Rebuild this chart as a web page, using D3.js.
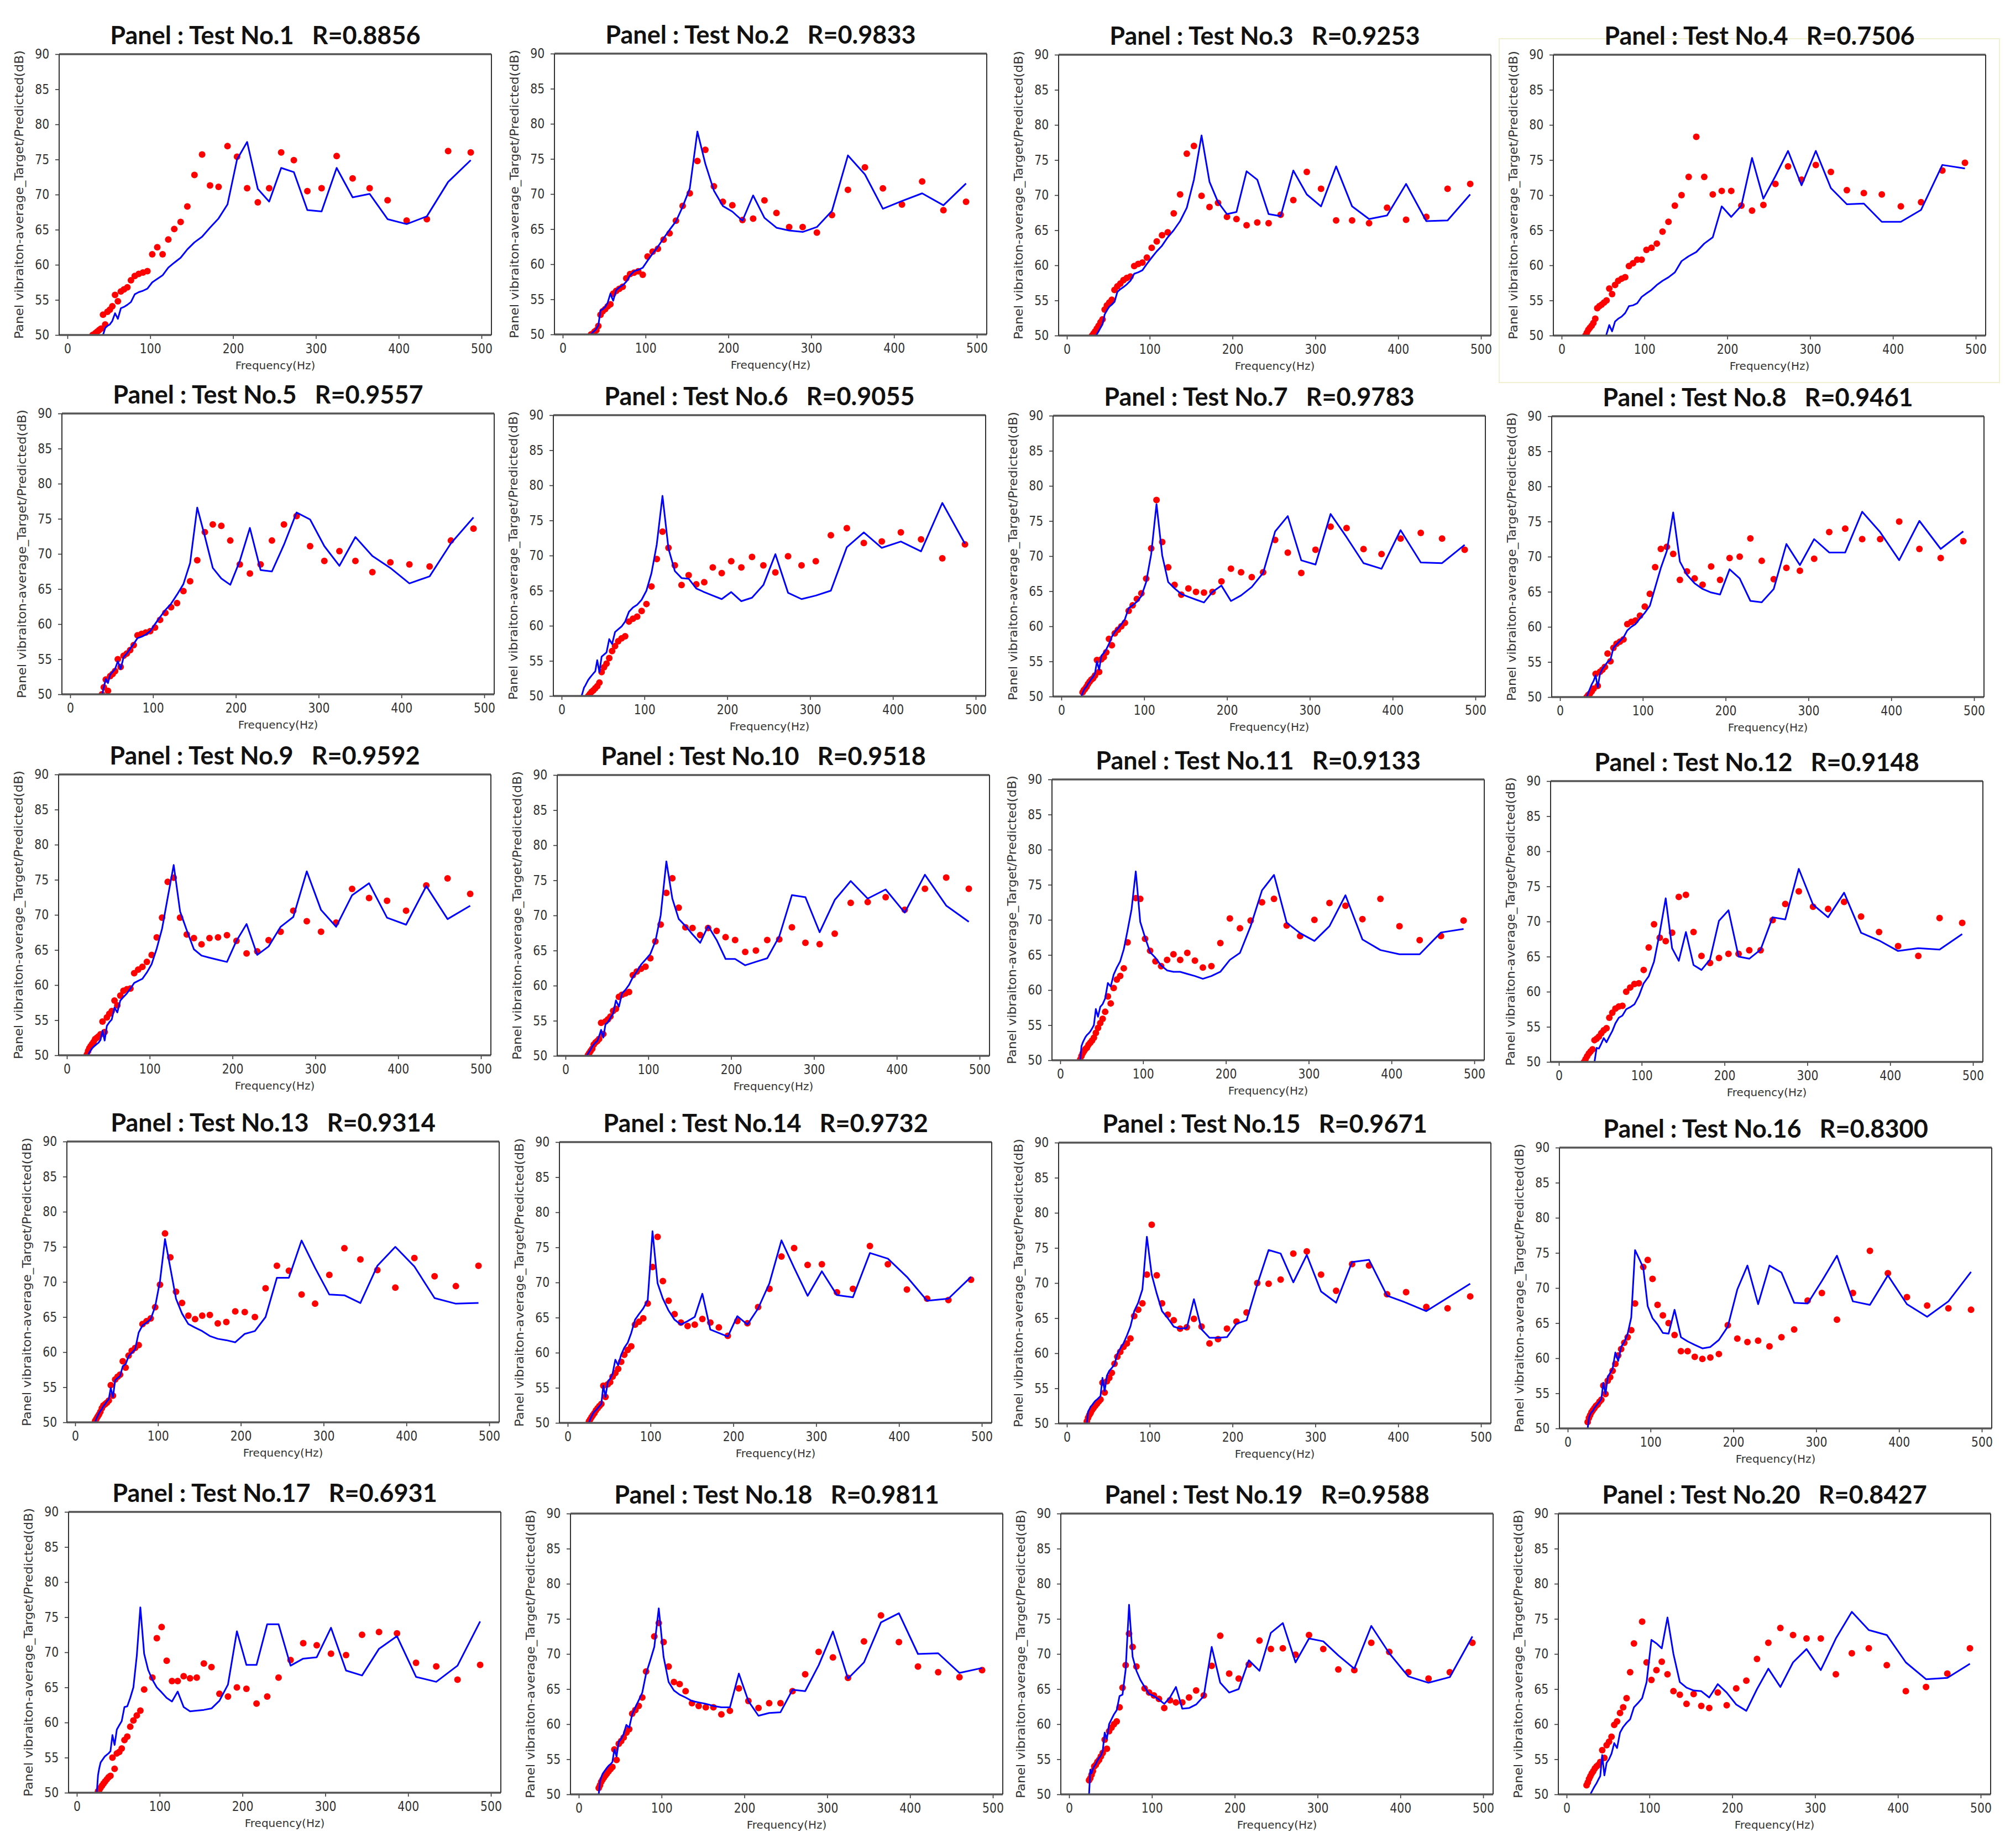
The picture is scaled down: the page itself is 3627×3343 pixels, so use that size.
<!DOCTYPE html>
<html><head><meta charset="utf-8">
<script src="https://cdn.jsdelivr.net/npm/d3@7"></script>
<style>body{margin:0;background:#fff}svg{display:block}</style>
</head><body>
<svg id="chart" width="3627" height="3343"></svg>
<script>
// 1/12-octave band centre frequencies (Hz)
const freqs = [24.1,25.6,27.1,28.7,30.4, 32.2,34.1,36.2,38.3,40.6, 43.0,45.6,48.3,51.2,54.2,
  57.5,60.9,64.5,68.3,72.4, 76.7,81.3,86.1,91.2,96.6, 102.4,108.5,114.9,121.8,129.0,
  136.7,144.8,153.4,162.6,172.2, 182.5,193.3,204.8,217.0,229.9, 243.6,258.1,273.4,289.7,306.9,
  325.1,344.4,364.9,386.6,409.6, 434.0,459.7,487.0];
const rValues = [0.8856,0.9833,0.9253,0.7506,0.9557,0.9055,0.9783,0.9461,0.9592,0.9518,
  0.9133,0.9148,0.9314,0.9732,0.9671,0.8300,0.6931,0.9811,0.9588,0.8427];
const xTicks = [0,100,200,300,400,500];
const yTicks = [50,55,60,65,70,75,80,85,90];

// Target (red dots) and Predicted (blue line) per test
const target01 = [null,null,null,null,50.0, 50.1,50.3,50.5,50.7,50.9, 52.9,51.5,53.3,53.6,54.1, 55.7,54.8,56.2,56.5,56.8, 57.8,58.4,58.7,58.9,59.1, 61.5,62.5,61.5,63.6,65.1, 66.1,68.3,72.8,75.7,71.3, 71.1,76.9,75.4,70.9,68.9, 70.9,76.0,74.9,70.5,70.9, 75.5,72.3,70.9,69.2,66.3, 66.5,76.2,76.0];
const predicted01 = [null,null,null,null,null, null,null,null,null,49.5, 50.0,51.0,51.3,51.5,52.0, 53.1,52.3,53.8,54.0,54.3, 54.7,55.8,56.1,56.3,56.6, 57.5,58.0,58.5,59.6,60.3, 61.0,62.2,63.2,64.0,65.3, 66.6,68.6,75.0,77.5,70.8, 69.0,73.8,73.2,67.8,67.6, 73.8,69.6,70.1,66.5,65.8, 66.9,71.8,74.9];
const target02 = [null,null,null,null,null, null,50.0,50.1,50.4,50.6, 51.2,52.8,53.3,53.6,54.0, 54.3,55.8,56.2,56.5,56.8, 58.0,58.6,58.8,59.0,58.5, 61.1,61.8,62.2,63.5,64.4, 66.2,68.3,70.1,74.7,76.3, 71.1,68.9,68.4,66.3,66.5, 69.1,67.3,65.3,65.3,64.5, 67.0,70.6,73.8,70.8,68.5, 71.8,67.7,68.9];
const predicted02 = [null,null,null,null,null, null,50.0,50.3,50.5,50.8, 51.3,53.4,53.6,53.9,54.5, 55.8,54.8,56.3,56.7,57.0, 57.5,58.4,59.0,59.2,59.5, 60.5,61.5,62.5,63.7,64.9, 66.1,68.2,70.8,78.9,74.3, 70.5,68.3,67.5,66.2,69.8, 66.6,65.2,64.8,64.6,65.3, 67.6,75.5,72.8,67.9,69.0, 70.1,68.4,71.5];
const target03 = [null,null,null,null,50.0, 50.3,50.6,51.0,51.4,51.9, 52.3,53.7,54.3,54.7,55.1, 56.5,57.0,57.4,57.9,58.2, 58.4,59.9,60.2,60.4,61.1, 62.5,63.4,64.3,64.7,67.4, 70.1,75.9,77.0,69.9,68.3, 68.9,66.9,66.6,65.7,66.1, 66.0,67.2,69.3,73.3,70.9, 66.4,66.4,66.0,68.2,66.5, 66.9,70.9,71.6];
const predicted03 = [null,null,null,null,null, null,49.8,50.2,50.6,51.1, 51.6,53.0,53.6,54.1,54.4, 54.8,56.2,56.6,56.9,57.3, 57.8,58.8,59.0,59.3,60.2, 61.1,62.0,62.8,64.0,65.0, 66.3,68.2,72.2,78.5,71.9, 69.0,67.3,67.6,73.4,72.2, 67.3,67.0,73.5,70.1,68.4, 74.1,68.4,66.6,67.1,71.6, 66.3,66.4,70.1];
const target04 = [null,null,null,50.0,50.4, 50.8,51.1,51.4,51.8,52.4, 53.9,54.2,54.4,54.7,55.0, 56.7,55.9,57.2,57.8,58.1, 58.3,59.9,60.3,60.8,60.8, 62.2,62.5,63.1,64.8,66.2, 68.5,70.0,72.6,78.3,72.6, 70.1,70.6,70.6,68.5,67.8, 68.6,71.6,74.1,72.2,74.3, 73.3,70.7,70.3,70.1,68.4, 69.0,73.5,74.6];
const predicted04 = [null,null,null,null,null, null,null,null,null,null, null,null,null,48.5,50.2, 51.5,50.6,52.0,52.4,52.7, 53.2,54.2,54.3,54.6,55.5, 56.0,56.5,57.2,57.8,58.3, 59.0,60.6,61.3,61.9,63.1, 64.0,68.4,66.9,68.5,75.3, 69.5,72.7,76.3,71.4,76.3, 71.0,68.7,68.8,66.2,66.2, 67.9,74.3,73.8];
const target05 = [null,null,null,null,null, null,null,null,50.0,51.0, 52.1,50.5,52.6,52.9,53.3, 55.0,53.9,55.5,55.8,56.3, 57.0,58.4,58.6,58.8,59.0, 59.5,60.6,61.6,62.4,63.0, 64.7,66.1,69.1,73.1,74.2, 74.0,71.9,68.5,67.2,68.5, 71.9,74.2,75.4,71.1,69.0, 70.4,69.0,67.4,68.8,68.5, 68.2,71.9,73.6];
const predicted05 = [null,null,null,null,null, null,null,null,49.8,51.0, 52.2,51.6,52.8,53.2,53.6, 54.7,53.6,55.3,55.8,56.5, 57.2,58.0,58.2,58.5,59.0, 60.0,61.0,62.0,62.9,64.2, 65.7,68.7,76.6,72.5,68.0, 66.5,65.6,69.0,73.7,67.7, 67.5,71.3,75.9,74.9,71.1, 68.3,72.4,69.7,68.0,65.8, 66.8,71.5,75.2];
const target06 = [null,null,null,null,null, 50.0,50.3,50.6,50.8,51.1, 51.4,51.9,53.4,54.1,54.6, 55.4,56.4,57.1,57.8,58.2, 58.5,60.6,61.0,61.3,62.1, 63.1,65.6,69.5,73.4,71.1, 68.6,65.8,67.2,65.9,66.2, 68.3,67.5,69.2,68.3,69.8, 68.6,67.6,69.9,68.6,69.2, 72.9,73.9,71.8,72.0,73.3, 72.3,69.6,71.6];
const predicted06 = [50.0,50.6,51.2,51.5,51.9, 52.3,52.6,52.9,53.2,53.5, 55.1,53.4,55.6,55.9,56.2, 58.1,57.4,59.1,59.5,59.9, 60.6,62.0,62.6,63.0,63.7, 65.0,67.5,71.6,78.5,71.0, 67.8,66.8,66.7,65.3,64.8, 64.3,63.8,64.8,63.5,64.0, 65.8,70.2,64.7,63.8,64.3, 65.0,71.2,73.3,71.1,72.0, 70.6,77.5,71.7];
const target07 = [null,50.6,50.9,51.1,51.4, 51.8,52.1,52.4,52.6,53.0, 55.2,53.5,55.3,55.6,56.3, 58.2,57.3,59.0,59.5,60.0, 60.5,62.2,63.0,63.9,64.7, 66.8,71.1,78.0,72.0,68.4, 65.9,64.5,65.4,64.9,64.8, 64.9,66.4,68.2,67.7,67.0, 67.7,72.3,70.5,67.6,70.9, 74.2,74.0,71.0,70.3,72.5, 73.3,72.5,70.9];
const predicted07 = [50.0,50.5,50.9,51.2,51.4, 51.8,52.1,52.5,52.8,53.3, 55.0,53.8,55.8,56.2,56.7, 57.5,58.5,59.2,59.7,60.3, 61.0,62.6,63.0,63.5,64.3, 66.3,70.3,77.4,70.1,66.3, 65.4,64.6,64.2,63.8,63.4, 64.9,65.8,63.6,64.4,65.6, 67.6,73.5,75.7,69.4,68.8, 76.0,72.7,69.0,68.2,73.7, 69.1,69.0,71.6];
const target08 = [null,null,null,null,null, 50.0,50.3,50.5,50.8,51.2, 53.3,51.6,53.6,53.9,54.3, 56.2,55.1,57.0,57.6,57.9, 58.2,60.4,60.7,60.9,61.6, 62.9,64.7,68.5,71.1,71.4, 70.4,66.7,67.9,66.9,66.0, 68.6,66.7,69.8,70.0,72.6, 69.4,66.8,68.4,68.0,69.7, 73.5,74.0,72.5,72.5,75.0, 71.1,69.8,72.2];
const predicted08 = [null,null,null,null,null, 50.0,50.6,51.2,51.8,52.3, 53.1,51.4,53.3,54.0,54.5, 55.0,55.3,57.0,57.5,58.0, 58.5,59.5,60.0,60.4,61.2, 62.0,63.0,65.6,68.4,70.8, 76.3,69.3,67.4,66.2,65.4, 64.9,64.6,68.2,66.9,63.7, 63.5,65.4,71.8,68.8,72.5, 70.6,70.6,76.4,73.5,69.5, 75.1,71.1,73.6];
const target09 = [50.1,50.6,51.0,51.3,51.6, 51.9,52.3,52.5,52.7,53.0, 54.8,53.3,55.4,55.9,56.3, 57.8,57.1,58.5,59.2,59.4, 59.5,61.7,62.2,62.6,63.3, 64.3,66.8,69.6,74.7,75.3, 69.6,67.2,66.7,65.8,66.7, 66.8,67.1,66.3,64.5,64.8, 66.4,67.6,70.6,69.1,67.6, 68.9,73.7,72.4,72.0,70.6, 74.2,75.2,73.0];
const predicted09 = [null,50.0,50.4,50.7,51.0, 51.2,51.4,51.6,51.8,52.2, 53.5,52.1,54.2,54.7,55.1, 56.8,56.1,57.8,58.3,58.8, 59.5,60.3,60.6,60.9,61.8, 63.0,65.2,68.0,72.5,77.1, 70.5,67.8,65.1,64.2,63.9, 63.6,63.3,66.3,68.7,64.3, 65.5,68.3,69.7,76.2,70.7, 68.3,72.8,74.5,69.6,68.6, 74.1,69.4,71.3];
const target10 = [null,null,50.1,50.4,50.7, 51.0,51.6,51.9,52.1,52.4, 54.7,53.1,54.9,55.2,55.6, 56.4,56.7,58.4,58.7,58.9, 59.1,61.5,62.0,62.4,62.7, 63.9,66.3,68.7,73.2,75.3, 71.1,68.3,68.2,67.2,68.2, 67.8,66.9,66.5,64.8,65.0, 66.5,66.6,68.3,66.1,65.9, 67.4,71.8,71.9,72.6,70.8, 73.8,75.4,73.8];
const predicted10 = [null,50.0,50.3,50.6,50.9, 51.3,51.6,51.9,52.1,52.8, 53.7,52.6,54.5,54.8,55.4, 56.0,57.9,57.0,58.9,59.4, 60.1,61.2,62.0,63.0,63.7, 64.5,66.3,70.0,77.7,72.4, 69.5,68.5,67.3,66.1,68.5, 66.5,63.8,63.8,62.9,63.4, 63.9,67.0,72.9,72.6,67.6, 72.2,74.9,72.4,73.7,70.4, 75.8,71.4,69.1];
const target11 = [50.1,50.6,51.0,51.3,51.6, 51.8,52.2,52.5,52.8,53.2, 53.9,54.6,55.3,55.9,56.9, 59.1,58.1,60.3,61.5,62.0, 63.1,66.8,null,73.1,73.0, 67.3,65.6,64.1,63.4,64.3, 65.1,64.3,65.3,64.2,63.2, 63.4,66.7,70.2,68.8,69.9, 72.5,73.0,69.2,67.7,70.0, 72.4,72.0,70.1,73.0,69.1, 67.1,67.7,69.9];
const predicted11 = [50.0,52.0,52.5,52.9,53.3, 53.6,53.8,54.1,54.5,55.0, 57.3,56.2,57.6,58.0,58.8, 61.0,60.5,62.2,63.2,64.1, 65.8,68.5,71.5,76.9,69.7, 67.5,65.4,64.6,63.5,62.8, 62.6,62.6,62.3,62.0,61.6, 62.0,62.6,64.3,65.3,69.1, 74.2,76.4,69.6,68.1,67.0, 69.1,73.5,67.2,65.7,65.1, 65.1,68.2,68.7];
const target12 = [null,null,null,null,50.0, 50.4,50.8,51.2,51.5,51.8, 53.1,53.3,53.6,54.1,54.5, 54.8,56.3,57.0,57.6,57.9, 58.0,60.0,60.6,61.1,61.2, 63.1,66.3,69.6,67.7,67.2, 68.4,73.5,73.8,68.5,65.1, 64.1,64.8,65.4,65.4,65.9, 65.9,70.2,72.5,74.3,72.1, 71.8,72.8,70.7,68.5,66.5, 65.1,70.5,69.8];
const predicted12 = [null,null,null,null,null, null,null,null,null,null, 50.0,52.0,51.9,52.6,53.4, 52.8,53.6,54.4,55.5,56.3, 56.6,57.5,57.8,58.2,59.4, 61.2,62.2,64.3,68.4,73.3, 66.2,64.4,68.5,63.8,63.1, 64.6,70.1,71.6,65.0,64.7, 66.0,70.6,70.3,77.5,72.4, 70.6,74.1,68.4,67.3,65.8, 66.2,66.0,68.2];
const target13 = [50.2,50.5,50.8,51.1,51.5, 52.0,52.4,52.6,52.8,53.1, 55.3,53.8,56.1,56.5,56.8, 58.7,57.8,59.5,60.2,60.6, 61.0,64.0,64.4,64.8,66.4, 69.6,76.9,73.5,68.6,67.0, 65.2,64.7,65.2,65.3,64.1, 64.3,65.8,65.7,65.0,69.1, 72.3,71.6,68.2,66.9,71.0, 74.8,73.2,71.7,69.2,73.4, 70.8,69.4,72.3];
const predicted13 = [50.0,50.5,50.9,51.3,51.6, 51.9,52.3,52.6,53.0,53.3, 54.9,53.6,56.0,56.3,56.6, 58.0,58.3,59.4,59.9,60.4, 62.8,63.8,64.2,64.7,66.5, 70.1,76.1,72.0,67.6,65.5, 64.0,63.5,63.0,62.3,61.9, 61.7,61.4,62.6,63.0,65.0, 70.6,70.6,75.9,72.0,68.2, 68.1,67.0,72.3,75.0,72.2, 67.7,66.9,67.0];
const target14 = [null,50.2,50.5,50.8,51.1, 51.4,51.8,52.1,52.4,52.7, 55.3,53.7,55.5,55.8,56.6, 57.1,57.7,58.7,59.7,60.4, 60.9,64.0,64.4,64.9,67.0, 72.2,76.5,70.2,67.4,65.5, 64.3,63.8,64.0,64.8,64.3, 63.6,62.4,64.5,64.2,66.5, 69.1,73.7,74.9,72.5,72.6, 68.6,69.1,75.2,72.6,69.0, 67.7,67.5,70.4];
const predicted14 = [null,50.0,50.5,50.9,51.3, 51.6,51.8,52.1,52.4,52.7, 55.3,53.7,55.8,56.3,57.0, 59.0,58.2,59.7,60.7,61.4, 62.8,64.7,65.5,66.3,67.5, 77.3,69.9,67.7,66.0,64.7, 64.0,64.5,65.1,68.4,63.3, 62.8,62.3,65.2,64.0,66.3, 69.9,76.0,72.1,68.1,71.6, 68.2,67.9,74.2,73.4,70.8, 67.4,67.7,70.8];
const target15 = [50.3,50.8,51.2,51.5,51.9, 52.2,52.5,52.8,53.1,53.4, 55.8,54.4,56.0,56.5,57.2, 58.5,59.5,60.2,60.9,61.4, 62.1,65.3,66.2,67.1,71.2, 78.3,71.1,67.1,65.5,64.7, 63.5,63.7,64.9,63.8,61.4, 62.0,63.5,64.5,65.8,70.0, 69.9,70.5,74.2,74.5,71.2, 68.9,72.7,72.5,68.4,68.7, 66.6,66.4,68.1];
const predicted15 = [50.0,51.7,52.0,52.4,52.6, 52.9,53.2,53.4,53.6,53.9, 56.5,54.6,56.8,57.5,57.9, 58.4,59.9,60.7,61.4,62.5, 63.8,66.0,67.2,69.1,76.6, 71.2,68.5,66.0,65.0,63.8, 63.5,63.6,67.7,63.4,62.2, 62.2,62.3,64.2,64.7,69.8, 74.7,74.2,70.1,74.0,68.8, 67.2,73.0,73.3,68.2,67.2, 66.0,67.9,69.9];
const target16 = [50.9,51.5,51.9,52.3,52.6, 52.9,53.2,53.4,53.8,54.1, 56.1,54.9,56.8,57.3,58.2, 59.2,60.4,61.3,62.2,63.0, 64.0,67.8,null,73.0,74.0, 71.3,67.6,66.1,65.0,63.3, 61.0,61.0,60.2,59.9,60.1, 60.6,64.7,62.8,62.3,62.5, 61.7,63.0,64.1,68.2,69.3, 65.5,69.3,75.3,72.1,68.7, 67.5,67.1,66.9];
const predicted16 = [50.0,51.5,52.0,52.3,52.5, 52.9,53.2,53.5,53.8,54.2, 56.5,54.9,57.3,57.9,58.5, 60.8,59.6,61.6,62.3,63.5, 65.8,75.4,74.2,72.9,67.4, 65.7,64.8,63.6,63.5,66.9, 63.0,62.4,61.9,61.4,61.6, 62.6,64.5,69.8,73.2,67.7, 73.2,72.2,67.9,67.8,71.0, 74.6,68.1,67.6,71.8,67.7, 65.9,68.1,72.3];
const target17 = [null,50.2,50.4,50.7,51.0, 51.3,51.6,51.9,52.2,52.4, 55.0,53.4,55.6,55.8,56.3, 57.5,58.0,59.4,60.3,61.0, 61.7,64.7,null,66.4,72.0, 73.6,68.8,65.9,65.9,66.6, 66.3,66.4,68.4,67.9,64.1, 63.7,65.0,64.8,62.7,63.7, 66.4,68.9,71.3,71.0,69.8, 69.6,72.5,72.9,72.7,68.5, 68.0,66.1,68.2];
const predicted17 = [50.0,52.5,53.5,54.3,54.6, 54.9,55.2,55.4,55.6,55.9, 58.2,56.8,59.0,59.6,60.2, 62.2,62.3,63.5,65.0,69.5, 76.4,69.8,67.5,66.1,65.0, 64.3,63.5,63.0,64.4,62.2, 61.6,61.7,61.8,62.0,63.1, 65.4,73.0,68.2,68.2,74.0, 74.0,68.1,69.1,69.3,73.5, 67.4,66.7,70.5,72.3,66.5, 65.8,68.1,74.4];
const target18 = [50.9,51.3,51.8,52.1,52.4, 52.7,53.0,53.3,53.6,53.9, 56.4,54.9,57.2,57.6,58.1, 58.8,59.3,61.5,62.0,62.6, 63.8,67.5,null,72.5,74.4, 71.7,68.2,66.0,65.7,64.7, 63.0,62.6,62.4,62.4,61.4, 61.9,65.1,63.3,62.3,63.0, 63.0,64.7,67.1,70.3,69.5, 66.6,71.8,75.5,71.7,68.2, 67.4,66.7,67.7];
const predicted18 = [50.0,51.8,52.4,52.9,53.2, 53.5,53.8,54.1,54.3,54.6, 56.4,55.4,57.5,57.9,58.6, 59.9,59.5,61.4,62.4,63.4, 64.5,67.2,69.0,71.0,76.5, 69.6,66.0,64.8,64.2,63.8, 63.3,63.1,62.9,62.6,62.4, 62.4,67.2,63.3,61.2,61.6, 61.7,64.9,64.7,68.4,73.2, 66.5,68.8,74.5,75.8,70.0, 70.1,67.3,68.0];
const target19 = [52.0,52.3,52.8,53.3,54.0, 54.2,54.6,54.9,55.4,55.9, 57.8,56.5,59.0,59.5,60.0, 60.4,62.4,65.2,68.4,72.9, 71.0,68.2,null,65.1,64.5, 64.1,63.6,62.3,63.4,63.1, 63.1,63.8,64.8,64.1,68.3, 72.6,67.2,66.5,68.5,71.9, 70.7,70.8,69.9,72.7,70.7, 67.8,67.7,71.6,70.3,67.4, 66.5,67.4,71.6];
const predicted19 = [50.0,53.5,53.0,53.6,54.0, 54.3,54.8,55.2,55.5,56.2, 58.8,57.9,60.0,60.7,61.4, 62.0,64.0,64.2,67.8,77.0, 69.6,67.6,66.3,65.3,64.3, 64.0,63.5,62.9,63.8,65.3, 62.2,62.3,62.8,64.0,71.0, 65.9,64.5,65.0,69.1,67.6, 73.0,74.4,68.8,72.2,71.8, 69.8,67.9,74.0,70.1,66.8, 65.9,66.7,72.5];
const target20 = [51.3,51.7,52.2,52.6,53.0, 53.3,53.7,54.0,54.2,54.6, 56.3,55.2,57.0,57.5,58.2, 59.9,60.4,61.6,62.4,63.7, 67.4,71.5,null,74.6,68.8, 66.3,67.7,68.9,67.1,64.7, 64.2,62.9,64.3,62.6,62.3, 64.5,62.7,65.1,66.2,69.3, 71.6,73.7,72.7,72.2,72.2, 67.1,70.1,70.8,68.4,64.7, 65.3,67.2,70.8];
const predicted20 = [null,null,null,50.0,50.4, 50.8,51.2,51.6,52.1,52.6, 55.6,52.7,54.5,55.0,55.8, 57.3,56.6,58.8,59.6,60.2, 60.7,62.4,63.0,63.7,66.0, 72.0,71.5,70.8,75.2,70.0, 66.0,65.2,64.8,64.7,63.8, 65.7,64.5,62.8,61.9,65.0, 67.9,65.3,68.8,70.7,67.7, 72.2,76.0,73.4,72.7,68.8, 66.4,66.6,68.6];

const targets = [target01,target02,target03,target04,target05,target06,target07,target08,target09,target10,
  target11,target12,target13,target14,target15,target16,target17,target18,target19,target20];
const predicteds = [predicted01,predicted02,predicted03,predicted04,predicted05,predicted06,predicted07,predicted08,predicted09,predicted10,
  predicted11,predicted12,predicted13,predicted14,predicted15,predicted16,predicted17,predicted18,predicted19,predicted20];

// layout: axes-box top-left corner of each panel (px)
const layout = [[107,98],[1003,97],[1915,99],[2810,99],
  [112,748],[1001,751],[1905,752],[2807,753],
  [106,1401],[1008,1402],[1903,1410],[2805,1413],
  [121,2065],[1012,2066],[1915,2067],[2821,2076],
  [124,2735],[1032,2738],[1919,2738],[2819,2738]];
const W = 782, H = 508;

const svg = d3.select('#chart');
svg.append('rect').attr('width',3627).attr('height',3343).attr('fill','#fff');
// faint frame around panel 4 (pasted image border)
svg.append('rect').attr('x',2712).attr('y',70).attr('width',905).attr('height',622)
  .attr('fill','none').attr('stroke','#f1f1d2').attr('stroke-width',2);

const x = d3.scaleLinear().domain([-10,512]).range([0,W]);
const y = d3.scaleLinear().domain([50,90]).range([H,0]);
const line = d3.line().defined(d => d.v != null).x(d => x(d.f)).y(d => y(d.v));

targets.forEach((tArr, i) => {
  const [left, top] = layout[i];
  const g = svg.append('g').attr('transform', `translate(${left},${top})`);
  const clipId = 'clip' + i;
  g.append('clipPath').attr('id', clipId).append('rect').attr('width', W).attr('height', H);

  // axes
  const ya = g.append('g').call(d3.axisLeft(y).tickValues(yTicks).tickSize(7).tickPadding(11));
  const xa = g.append('g').attr('transform', `translate(0,${H})`)
    .call(d3.axisBottom(x).tickValues(xTicks).tickSize(7).tickPadding(9));
  [ya, xa].forEach(a => {
    a.select('.domain').remove();
    a.selectAll('line').attr('stroke', '#333').attr('stroke-width', 1.6);
    a.selectAll('text').attr('font-family', 'DejaVu Sans').attr('font-size', 24)
      .attr('fill', '#333').attr('transform', 'scale(0.85,1)');
  });
  ya.selectAll('text').attr('x', -21);

  const plot = g.append('g').attr('clip-path', `url(#${clipId})`);
  const tPts = freqs.map((f, k) => ({f, v: tArr[k]})).filter(d => d.v != null);
  const pPts = freqs.map((f, k) => ({f, v: predicteds[i][k]}));
  plot.selectAll('circle').data(tPts).join('circle')
    .attr('cx', d => x(d.f)).attr('cy', d => y(d.v)).attr('r', 6).attr('fill', '#ff0000');
  plot.append('path').datum(pPts).attr('d', line).attr('fill', 'none')
    .attr('stroke', '#0000ff').attr('stroke-width', 3).attr('stroke-linejoin', 'round');

  // spines
  g.append('line').attr('x1', 0).attr('x2', W).attr('y1', 0).attr('y2', 0).attr('stroke', '#555').attr('stroke-width', 3.5);
  g.append('line').attr('x1', 0).attr('x2', W).attr('y1', H).attr('y2', H).attr('stroke', '#555').attr('stroke-width', 3.5);
  g.append('line').attr('x1', 0).attr('x2', 0).attr('y1', 0).attr('y2', H).attr('stroke', '#333').attr('stroke-width', 2);
  g.append('line').attr('x1', W).attr('x2', W).attr('y1', 0).attr('y2', H).attr('stroke', '#333').attr('stroke-width', 2);

  // labels
  g.append('text').attr('x', W / 2).attr('y', H + 62).attr('text-anchor', 'middle')
    .attr('font-family', 'DejaVu Sans').attr('font-size', 20).attr('fill', '#333').text('Frequency(Hz)');
  g.append('text').attr('transform', `translate(-65,${H / 2}) rotate(-90)`).attr('text-anchor', 'middle')
    .attr('font-family', 'DejaVu Sans').attr('font-size', 22).attr('fill', '#333')
    .attr('textLength', 522).attr('lengthAdjust', 'spacingAndGlyphs')
    .text('Panel vibraiton-average_Target/Predicted(dB)');
  g.append('text').attr('x', W / 2 - 18).attr('y', -18).attr('text-anchor', 'middle')
    .attr('font-family', 'Lato').attr('font-weight', 700).attr('font-size', 45).attr('fill', '#111')
    .style('white-space', 'pre')
    .text(`Panel : Test No.${i + 1}   R=${rValues[i].toFixed(4)}`);
});
</script>
</body></html>
